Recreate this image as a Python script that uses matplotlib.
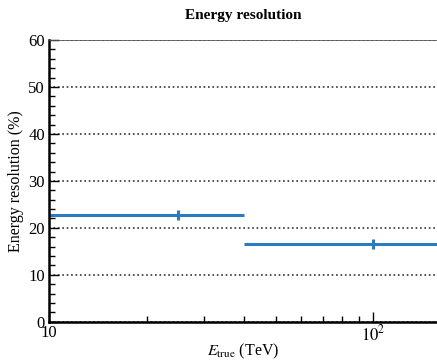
import numpy as np
import matplotlib.pyplot as plt

# energy bins (TeV) and resolution (%)
bin_edges = [10, 40, 160]
bin_centers = [25, 100]
resolution = [22.8, 16.5]
resolution_err = [1.1, 1.1]

plt.rcParams['font.family'] = ['Liberation Serif', 'DejaVu Serif']
plt.rcParams['mathtext.fontset'] = 'stix'

fig = plt.figure(figsize=(4.37, 3.6), dpi=100)
ax = fig.add_axes([0.112, 0.106, 0.888, 0.783])

lo = np.array(bin_edges[:-1])
hi = np.array(bin_edges[1:])
xc = np.array(bin_centers)
ax.errorbar(xc, resolution, xerr=[xc - lo, hi - xc], yerr=resolution_err,
            fmt='none', ecolor='#2a7bbf', elinewidth=2.2, capsize=0)

ax.set_xscale('log')
ax.set_xlim(10, 157)
ax.set_ylim(0, 60)
ax.set_xticks([10, 100])
ax.set_xticklabels(['10', '$10^2$'])
ax.set_yticks(range(0, 61, 10))
ax.set_yticks(range(0, 61, 2), minor=True)

ax.grid(axis='y', which='major', linestyle=':', color='#333333', linewidth=1.2)
ax.spines['right'].set_visible(False)
ax.spines['top'].set_linewidth(0.6)
ax.spines['top'].set_color('#555555')
for s in ['left', 'bottom']:
    ax.spines[s].set_linewidth(1.8)

ax.tick_params(which='major', direction='in', length=7, width=1, labelsize=12, pad=2)
ax.tick_params(axis='y', which='major', pad=3)
ax.tick_params(which='minor', direction='in', length=4, width=1)

ax.set_xlabel('$E_{\\rm true}$ (TeV)', fontsize=11.5, labelpad=-2)
ax.set_ylabel('Energy resolution (%)', fontsize=11.5, labelpad=3)
ax.set_title('Energy resolution', fontsize=11, fontweight='bold', pad=15)

fig.savefig('out.png', dpi=100)
